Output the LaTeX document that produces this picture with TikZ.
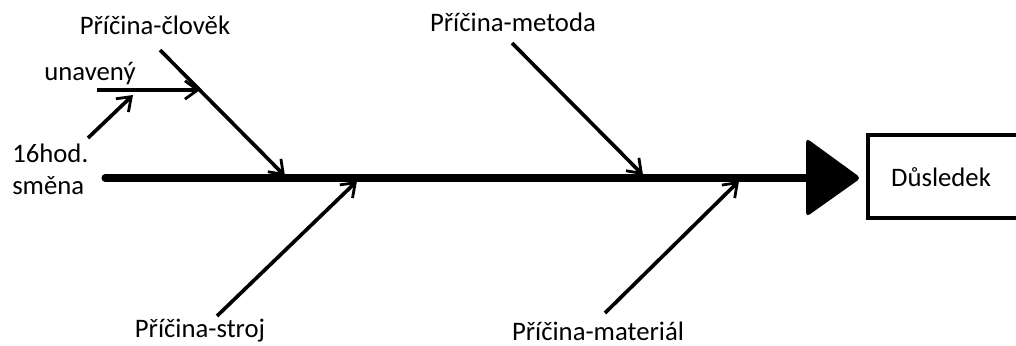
\documentclass[tikz,border=0pt]{standalone}
\usepackage{fontspec}
\setmainfont{Carlito}
\usetikzlibrary{arrows.meta}

\begin{document}
\begin{tikzpicture}[x=0.025cm, y=-0.025cm, font=\fontsize{19}{23}\selectfont,
    bone/.style={line width=2.6pt, -{Straight Barb[length=9pt, width=13pt, line width=2pt]}},
    spine/.style={line width=5pt, line cap=round},
    lbl/.style={inner sep=0pt}]

\useasboundingbox (0,0) rectangle (1016,345);

% --- Spine and head ---
\coordinate (spineL) at (105,178);
\coordinate (spineR) at (812,178);
\draw[spine] (spineL) -- (spineR);
\fill[rounded corners=3pt] (806,138) -- (861,178) -- (806,217) -- cycle;

\begin{scope}
    \clip (0,0) rectangle (1016,345);
    \draw[line width=2.4pt] (868,135) rectangle (1030,218);
\end{scope}
\node[lbl] (effect) at (941,177) {Důsledek};

% --- Causes ---
\node[lbl] (man) at (155,25) {Příčina-člověk};
\node[lbl] (method) at (513,22) {Příčina-metoda};
\node[lbl] (machine) at (200,331) {Příčina-stroj};
\node[lbl] (material) at (598,331) {Příčina-materiál};

\coordinate (manS) at (160,50);
\coordinate (manE) at (285,176);
\coordinate (methodS) at (512,43);
\coordinate (methodE) at (643,175);
\coordinate (machineS) at (217,316);
\coordinate (machineE) at (357,181);
\coordinate (materialS) at (605,313);
\coordinate (materialE) at (739,181);

\draw[bone] (manS) -- (manE);
\draw[bone] (methodS) -- (methodE);
\draw[bone] (machineS) -- (machineE);
\draw[bone] (materialS) -- (materialE);

% --- Sub-causes ---
\node[lbl] (tired) at (90,74) {unavený};
\node[lbl, align=left, anchor=west] (shift) at (12,169) {16hod.\\směna};

\coordinate (tiredS) at (97,90);
\coordinate (tiredE) at (200,90);
\coordinate (shiftS) at (88,138);
\coordinate (shiftE) at (133,95);

\draw[bone] (tiredS) -- (tiredE);
\draw[bone] (shiftS) -- (shiftE);

\end{tikzpicture}
\end{document}
